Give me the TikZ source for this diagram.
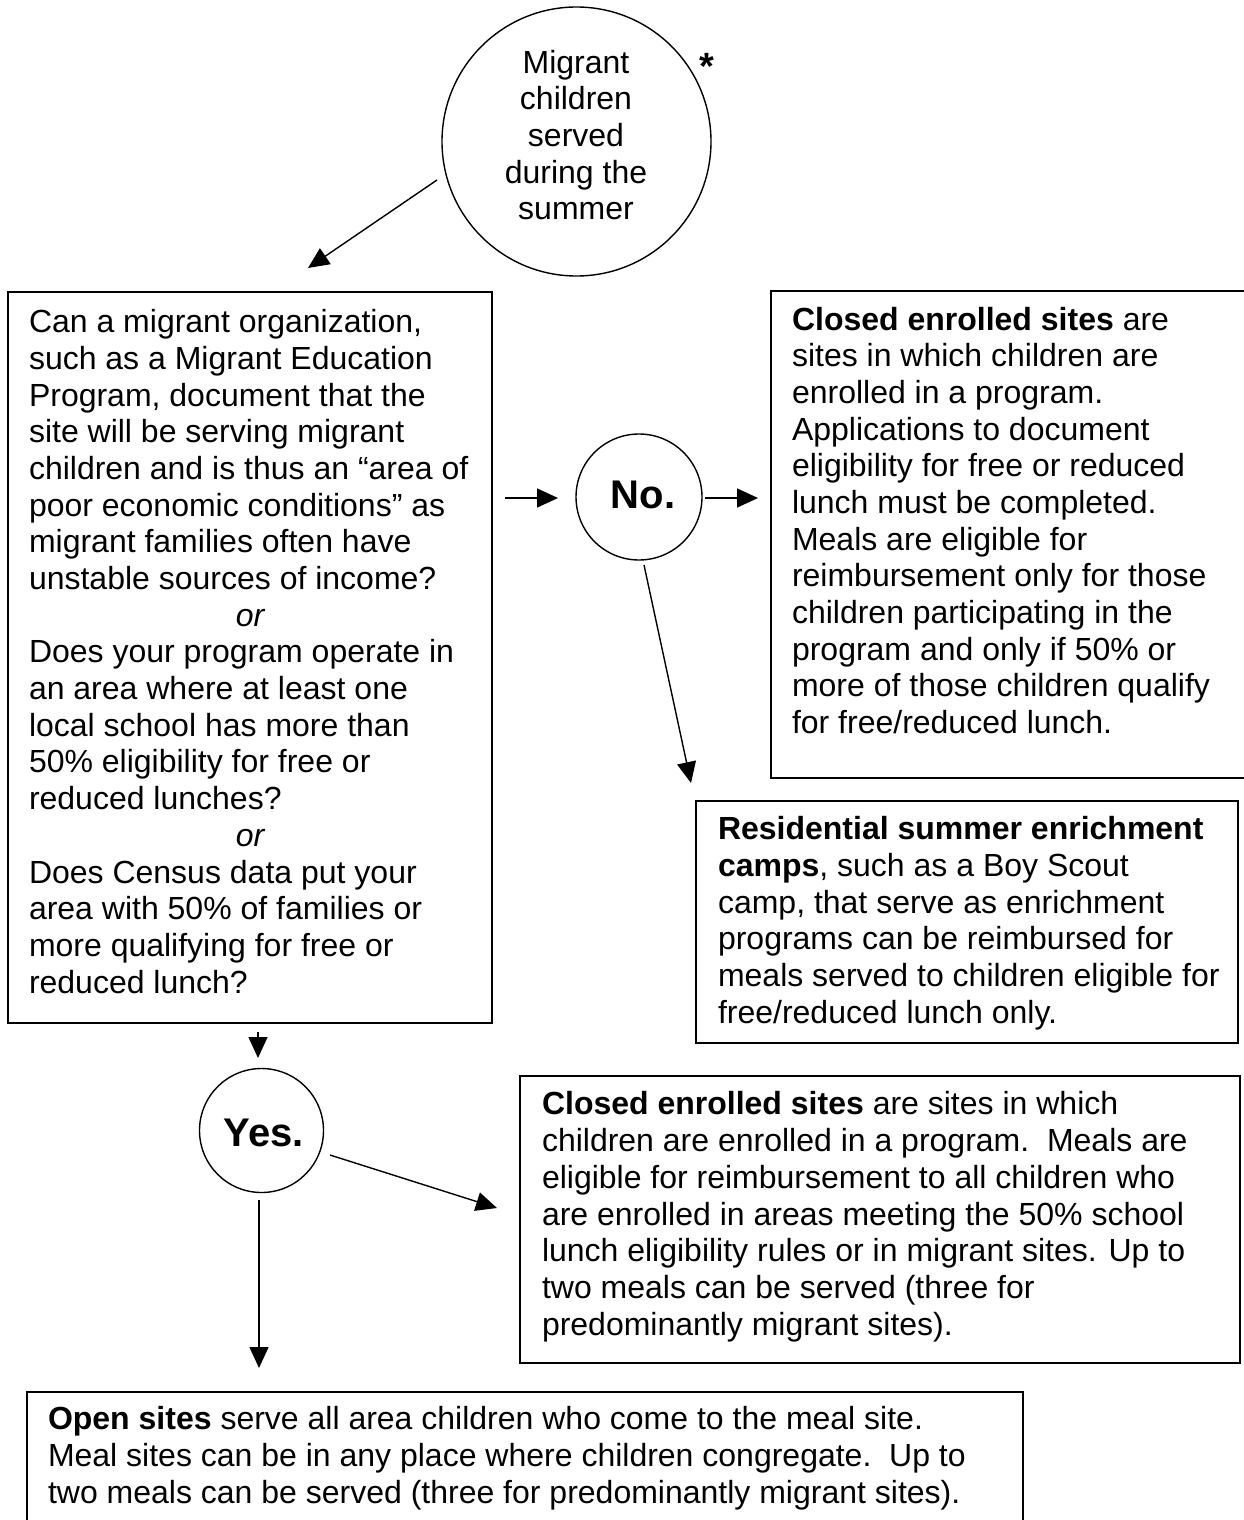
\documentclass[tikz,border=0pt]{standalone}
\usepackage{fontspec}
\setmainfont{Liberation Sans}
\usetikzlibrary{arrows.meta}
\begin{document}
\begin{tikzpicture}[x=1pt,y=-1pt,
  every node/.style={inner sep=0pt,outer sep=0pt},
  boxnode/.style={draw,line width=1.5pt,rectangle,anchor=center},
  ringnode/.style={draw,line width=1.4pt,circle},
  txt/.style={anchor=base west,align=left,font=\fontsize{32}{36.67}\selectfont},
  ctxt/.style={anchor=base,align=center,font=\fontsize{32}{36.67}\selectfont},
  bigtxt/.style={anchor=base,font=\fontsize{40}{44}\selectfont\bfseries},
  arr/.style={line width=1.4pt,-{Triangle[length=21pt,width=19pt]}}]
\useasboundingbox (0,0) rectangle (1243,1520);

% boxes
\node[boxnode,minimum width=484pt,minimum height=731pt] (q) at (250,657.5) {};
\node[boxnode,minimum width=479pt,minimum height=487pt] (c1) at (1010.5,534.5) {};
\node[boxnode,minimum width=542pt,minimum height=242pt] (r) at (967,922) {};
\node[boxnode,minimum width=720pt,minimum height=287pt] (c2) at (880,1219.5) {};
\node[boxnode,minimum width=996pt,minimum height=138pt] (o) at (525,1461) {};

% circles
\node[ringnode,minimum size=269pt] (top) at (576.5,141.5) {};
\node[ringnode,minimum size=126pt] (no) at (639,497) {};
\node[ringnode,minimum size=124pt] (yes) at (261.5,1130.5) {};

% circle texts (base = last line's baseline)
\node[ctxt] (toptext) at (576,219.7) {Migrant\\children\\served\\during the\\summer};
\node[anchor=base,font=\fontsize{38}{40}\selectfont\bfseries] (star) at (707,79) {*};
\node[bigtxt] (notext) at (643,508) {No.};
\node[bigtxt] (yestext) at (264,1146) {Yes.};

% box texts
\node[txt] (qtext) at (29,993) {Can a migrant organization,\\
such as a Migrant Education\\
Program, document that the\\
site will be serving migrant\\
children and is thus an “area of\\
poor economic conditions” as\\
migrant families often have\\
unstable sources of income?\\
\makebox[442pt]{\itshape or}\\
Does your program operate in\\
an area where at least one\\
local school has more than\\
50\% eligibility for free or\\
reduced lunches?\\
\makebox[442pt]{\itshape or}\\
Does Census data put your\\
area with 50\% of families or\\
more qualifying for free or\\
reduced lunch?};

\node[txt] (c1text) at (792,733.4) {\textbf{Closed enrolled sites} are\\
sites in which children are\\
enrolled in a program.\\
Applications to document\\
eligibility for free or reduced\\
lunch must be completed.\\
Meals are eligible for\\
reimbursement only for those\\
children participating in the\\
program and only if 50\% or\\
more of those children qualify\\
for free/reduced lunch.};

\node[txt] (rtext) at (718,1023.3) {\textbf{Residential summer enrichment}\\
\textbf{camps}, such as a Boy Scout\\
camp, that serve as enrichment\\
programs can be reimbursed for\\
meals served to children eligible for\\
free/reduced lunch only.};

\node[txt] (c2text) at (542,1335) {\textbf{Closed enrolled sites} are sites in which\\
children are enrolled in a program.\ \ Meals are\\
eligible for reimbursement to all children who\\
are enrolled in areas meeting the 50\% school\\
lunch eligibility rules or in migrant sites. Up to\\
two meals can be served (three for\\
predominantly migrant sites).};

\node[txt] (otext) at (48,1503.3) {\textbf{Open sites} serve all area children who come to the meal site.\\
Meal sites can be in any place where children congregate.\ \ Up to\\
two meals can be served (three for predominantly migrant sites).};

% arrow end points
\coordinate (a1s) at (437,180);  \coordinate (a1e) at (308,268);
\coordinate (a2s) at (505,498);  \coordinate (a2e) at (558,498);
\coordinate (a3s) at (705,498);  \coordinate (a3e) at (758,498);
\coordinate (a4s) at (644,565);  \coordinate (a4e) at (691,783);
\coordinate (a5s) at (258,1032); \coordinate (a5e) at (258,1058);
\coordinate (a6s) at (330,1155); \coordinate (a6e) at (497,1208);
\coordinate (a7s) at (259,1200); \coordinate (a7e) at (259,1368);

\draw[arr] (a1s) -- (a1e);
\draw[arr] (a2s) -- (a2e);
\draw[arr] (a3s) -- (a3e);
\draw[arr] (a4s) -- (a4e);
\draw[arr] (a5s) -- (a5e);
\draw[arr] (a6s) -- (a6e);
\draw[arr] (a7s) -- (a7e);
\end{tikzpicture}
\end{document}
